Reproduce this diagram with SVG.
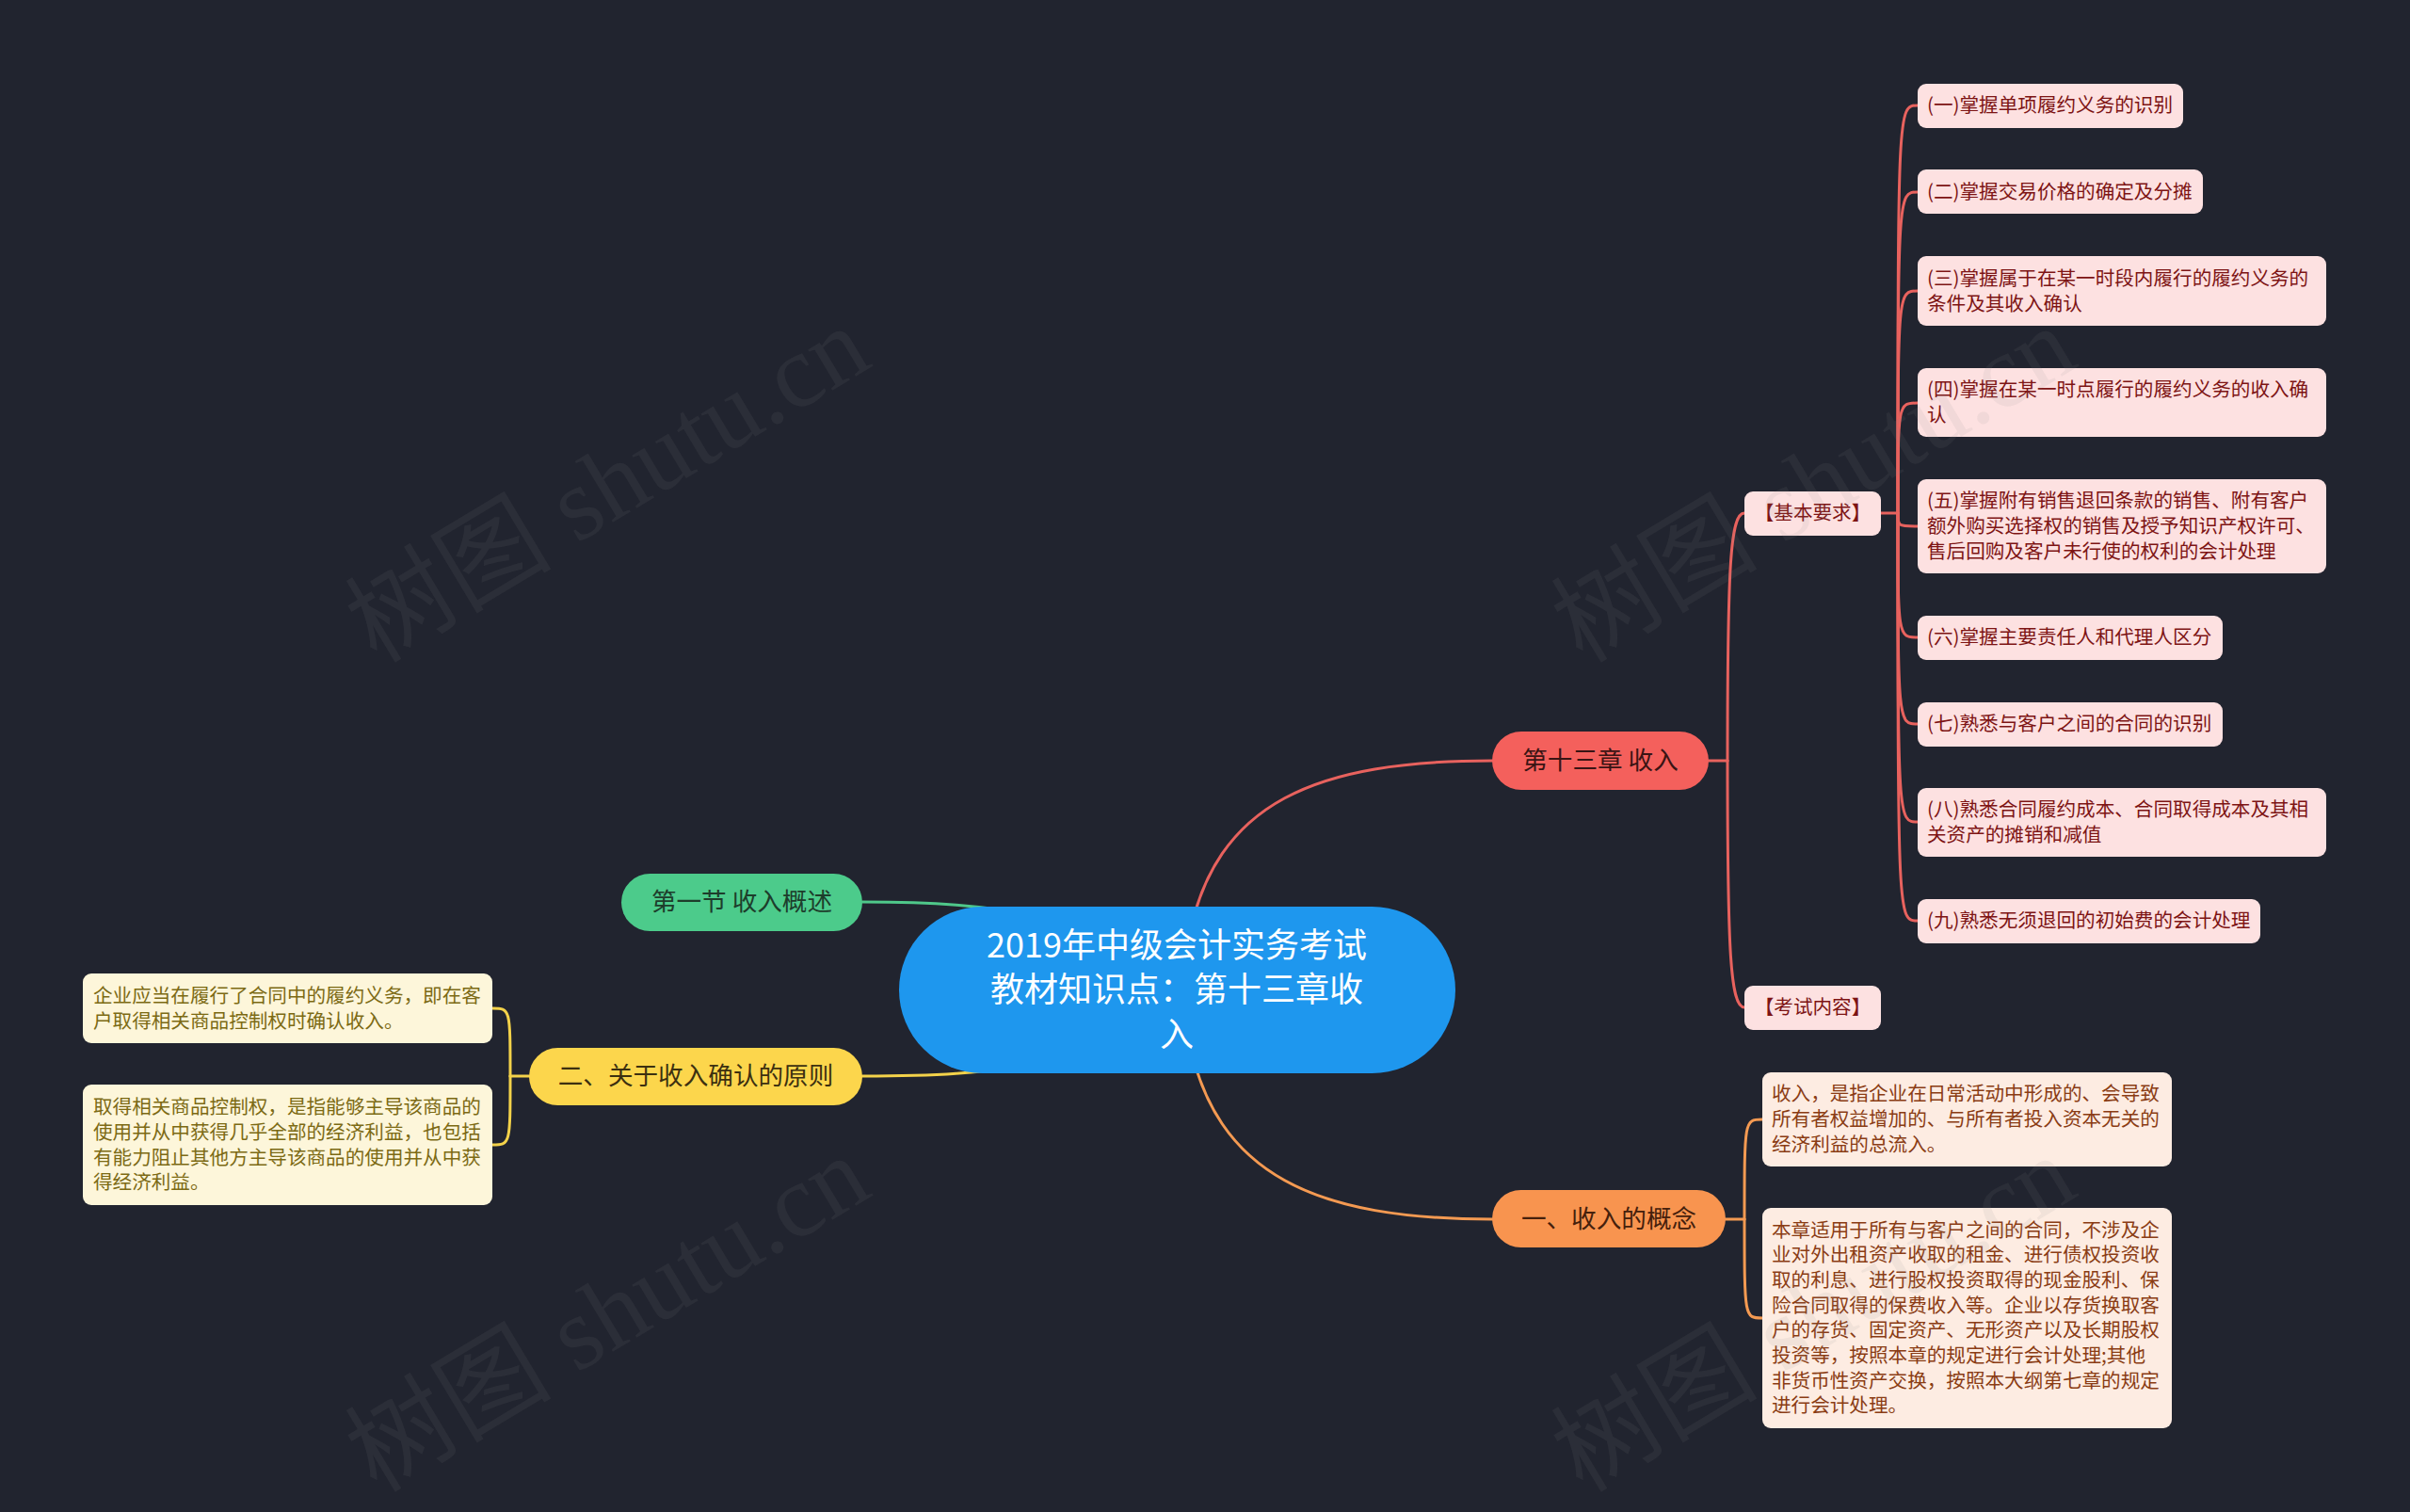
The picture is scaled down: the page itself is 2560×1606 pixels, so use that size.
<svg xmlns="http://www.w3.org/2000/svg" width="2560" height="1606" viewBox="0 0 2560 1606">
<style>
text{font-family:"Noto Sans CJK SC","Microsoft YaHei",sans-serif;}
.wm{font-family:"Liberation Serif","Noto Sans CJK SC",serif;font-size:110px;fill:#8c8c8c;fill-opacity:0.1;text-anchor:middle;}
.c{fill:none;stroke-width:3;stroke-linecap:round;}
.cr{stroke:#e8625e;}
.co{stroke:#f49a52;}
.cg{stroke:#4fc88a;}
.cy{stroke:#f3d24a;}
.main{font-size:26.6px;text-anchor:middle;}
.pink rect{fill:#fde1e1;}
.pink text{fill:#7d1414;font-size:20.6px;}
.peach rect{fill:#fdece2;}
.peach text{fill:#8a3c14;font-size:20.6px;}
.lemon rect{fill:#fdf6da;}
.lemon text{fill:#7c6a14;font-size:20.6px;}
</style>
<rect width="2560" height="1606" fill="#21242f"/>
<g id="connectors">
<path class="c cr" d="M1262 1000 C1290 850 1400 808 1585 808"/>
<path class="c co" d="M1262 1100 C1290 1250 1400 1295 1585 1295"/>
<path class="c cg" d="M916 958 C990 958 1040 961 1120 975"/>
<path class="c cy" d="M916 1143 C990 1143 1040 1141 1120 1127"/>
<path class="c cr" d="M1815 808 L1835 808"/>
<path class="c cr" d="M1835 808 C1835 600 1838 545 1853 545"/>
<path class="c cr" d="M1835 808 C1835 1010 1838 1070 1853 1070"/>
<path class="c cr" d="M1998 545 L2016 545"/>
<path class="c cr" d="M2016 545 C2016 112 2016 112 2037 112"/>
<path class="c cr" d="M2016 545 C2016 204 2016 204 2037 204"/>
<path class="c cr" d="M2016 545 C2016 309 2016 309 2037 309"/>
<path class="c cr" d="M2016 545 C2016 428 2016 428 2037 428"/>
<path class="c cr" d="M2016 545 C2016 559 2016 559 2037 559"/>
<path class="c cr" d="M2016 545 C2016 677 2016 677 2037 677"/>
<path class="c cr" d="M2016 545 C2016 769 2016 769 2037 769"/>
<path class="c cr" d="M2016 545 C2016 873 2016 873 2037 873"/>
<path class="c cr" d="M2016 545 C2016 978 2016 978 2037 978"/>
<path class="c co" d="M1833 1295 L1853 1295"/>
<path class="c co" d="M1853 1295 C1853 1189 1853 1189 1872 1189"/>
<path class="c co" d="M1853 1295 C1853 1400 1853 1400 1872 1400"/>
<path class="c cy" d="M562 1143 L542 1143"/>
<path class="c cy" d="M542 1143 C542 1071 542 1071 523 1071"/>
<path class="c cy" d="M542 1143 C542 1216 542 1216 523 1216"/>
</g>
<g id="root">
<rect x="955" y="963" width="591" height="177" rx="88.5" fill="#1e97ee"/>
<text x="1250" y="1017" font-size="36" fill="#ffffff" text-anchor="middle">2019年中级会计实务考试</text>
<text x="1250" y="1064" font-size="36" fill="#ffffff" text-anchor="middle">教材知识点：第十三章收</text>
<text x="1250" y="1112" font-size="36" fill="#ffffff" text-anchor="middle">入</text>
</g>
<g id="n-ch13">
<rect x="1585" y="777" width="230" height="62" rx="31" fill="#f4605c"/>
<text class="main" x="1700" y="817" fill="#3a1414">第十三章 收入</text>
</g>
<g id="n-concept">
<rect x="1585" y="1264" width="248" height="61" rx="30.5" fill="#f8944f"/>
<text class="main" x="1709" y="1304" fill="#45200c">一、收入的概念</text>
</g>
<g id="n-sec1">
<rect x="660" y="928" width="256" height="61" rx="30.5" fill="#4ccb8b"/>
<text class="main" x="788" y="967" fill="#1d3d2b">第一节 收入概述</text>
</g>
<g id="n-principle">
<rect x="562" y="1113" width="354" height="61" rx="30.5" fill="#fcd64c"/>
<text class="main" x="739" y="1152" fill="#3c3010">二、关于收入确认的原则</text>
</g>
<g id="n-basic" class="pink">
<rect x="1853" y="522" width="145" height="47" rx="9"/>
<text x="1925.5" y="552" text-anchor="middle">【基本要求】</text>
</g>
<g id="n-exam" class="pink">
<rect x="1853" y="1047" width="145" height="47" rx="9"/>
<text x="1925.5" y="1077" text-anchor="middle">【考试内容】</text>
</g>
<g id="n-r1" class="pink">
<rect x="2037" y="89" width="282" height="47" rx="9"/>
<text x="2047" y="119">(一)掌握单项履约义务的识别</text>
</g>
<g id="n-r2" class="pink">
<rect x="2037" y="180" width="303" height="47" rx="9"/>
<text x="2047" y="211">(二)掌握交易价格的确定及分摊</text>
</g>
<g id="n-r3" class="pink">
<rect x="2037" y="272" width="434" height="74" rx="9"/>
<text x="2047" y="303">(三)掌握属于在某一时段内履行的履约义务的</text>
<text x="2047" y="330">条件及其收入确认</text>
</g>
<g id="n-r4" class="pink">
<rect x="2037" y="391" width="434" height="73" rx="9"/>
<text x="2047" y="421">(四)掌握在某一时点履行的履约义务的收入确</text>
<text x="2047" y="448">认</text>
</g>
<g id="n-r5" class="pink">
<rect x="2037" y="509" width="434" height="100" rx="9"/>
<text x="2047" y="539">(五)掌握附有销售退回条款的销售、附有客户</text>
<text x="2047" y="566">额外购买选择权的销售及授予知识产权许可、</text>
<text x="2047" y="593">售后回购及客户未行使的权利的会计处理</text>
</g>
<g id="n-r6" class="pink">
<rect x="2037" y="654" width="324" height="47" rx="9"/>
<text x="2047" y="684">(六)掌握主要责任人和代理人区分</text>
</g>
<g id="n-r7" class="pink">
<rect x="2037" y="746" width="324" height="47" rx="9"/>
<text x="2047" y="776">(七)熟悉与客户之间的合同的识别</text>
</g>
<g id="n-r8" class="pink">
<rect x="2037" y="837" width="434" height="73" rx="9"/>
<text x="2047" y="867">(八)熟悉合同履约成本、合同取得成本及其相</text>
<text x="2047" y="894">关资产的摊销和减值</text>
</g>
<g id="n-r9" class="pink">
<rect x="2037" y="955" width="364" height="47" rx="9"/>
<text x="2047" y="985">(九)熟悉无须退回的初始费的会计处理</text>
</g>
<g id="n-def" class="peach">
<rect x="1872" y="1139" width="435" height="100" rx="9"/>
<text x="1882" y="1169">收入，是指企业在日常活动中形成的、会导致</text>
<text x="1882" y="1196">所有者权益增加的、与所有者投入资本无关的</text>
<text x="1882" y="1223">经济利益的总流入。</text>
</g>
<g id="n-scope" class="peach">
<rect x="1872" y="1283" width="435" height="234" rx="9"/>
<text x="1882" y="1314">本章适用于所有与客户之间的合同，不涉及企</text>
<text x="1882" y="1340">业对外出租资产收取的租金、进行债权投资收</text>
<text x="1882" y="1367">取的利息、进行股权投资取得的现金股利、保</text>
<text x="1882" y="1394">险合同取得的保费收入等。企业以存货换取客</text>
<text x="1882" y="1420">户的存货、固定资产、无形资产以及长期股权</text>
<text x="1882" y="1447">投资等，按照本章的规定进行会计处理;其他</text>
<text x="1882" y="1474">非货币性资产交换，按照本大纲第七章的规定</text>
<text x="1882" y="1500">进行会计处理。</text>
</g>
<g id="n-p1" class="lemon">
<rect x="88" y="1034" width="435" height="74" rx="9"/>
<text x="99" y="1065">企业应当在履行了合同中的履约义务，即在客</text>
<text x="99" y="1092">户取得相关商品控制权时确认收入。</text>
</g>
<g id="n-p2" class="lemon">
<rect x="88" y="1152" width="435" height="128" rx="9"/>
<text x="99" y="1183">取得相关商品控制权，是指能够主导该商品的</text>
<text x="99" y="1210">使用并从中获得几乎全部的经济利益，也包括</text>
<text x="99" y="1237">有能力阻止其他方主导该商品的使用并从中获</text>
<text x="99" y="1263">得经济利益。</text>
</g>
<g id="watermarks">
<text class="wm" transform="rotate(-31 645 514)" x="645" y="552">树图 shutu.cn</text>
<text class="wm" transform="rotate(-31 1926 514)" x="1926" y="552">树图 shutu.cn</text>
<text class="wm" transform="rotate(-31 645 1395)" x="645" y="1433">树图 shutu.cn</text>
<text class="wm" transform="rotate(-31 1926 1395)" x="1926" y="1433">树图 shutu.cn</text>
</g>
</svg>
